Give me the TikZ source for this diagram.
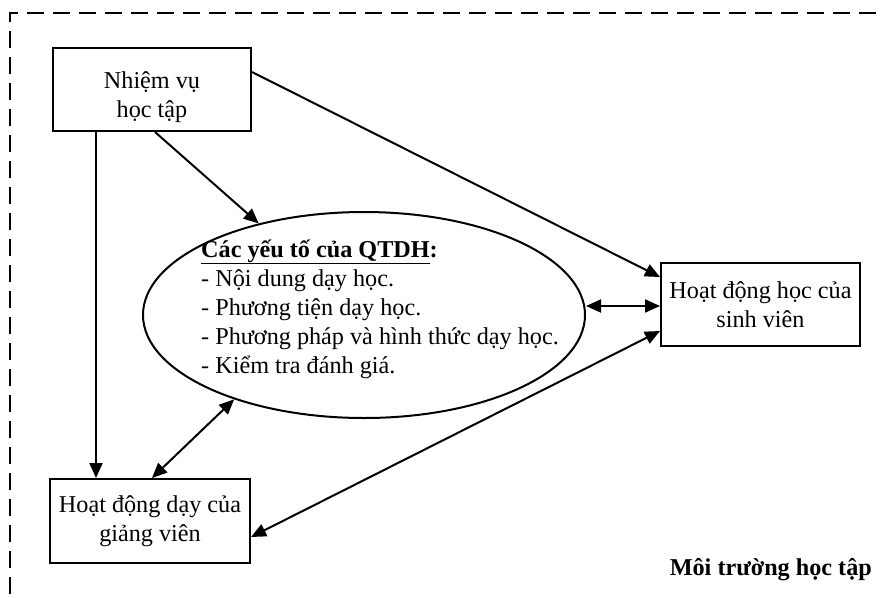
\documentclass[tikz,border=0pt]{standalone}
\usepackage{fontspec}
\setmainfont{Liberation Serif}
\usetikzlibrary{arrows.meta,shapes.geometric}
\begin{document}
\begin{tikzpicture}[x=1pt,y=-1pt,
  box/.style={draw,line width=2pt,inner sep=0pt,font=\fontsize{24.2}{29}\selectfont,align=center},
  arr/.style={line width=2pt,-{Triangle[length=15pt,width=13pt]}},
  darr/.style={line width=2pt,{Triangle[length=15pt,width=13pt]}-{Triangle[length=15pt,width=13pt]}}]
\useasboundingbox (0,0) rectangle (880,597);
\begin{scope}
\clip (0,0) rectangle (880,597);
\draw[line width=2pt,dash pattern=on 17pt off 9pt] (10,620) -- (10,13) -- (900,13);
\end{scope}
\node[box,minimum width=198pt,minimum height=83pt] (nv) at (152,89.5) {\rule{0pt}{33pt}Nhiệm vụ\\học tập};
\node[box,minimum width=200pt,minimum height=84pt] (gv) at (150,521) {Hoạt động dạy của\\giảng viên};
\node[box,minimum width=199pt,minimum height=83pt] (sv) at (760.5,304.5) {Hoạt động học của\\sinh viên};
\node[draw,ellipse,line width=2pt,minimum width=442pt,minimum height=206pt,inner sep=0pt] (el) at (364,315) {};
\node[anchor=base west,align=left,inner sep=0pt,font=\fontsize{24.2}{29}\selectfont] (tx) at (201,373)
  {\textbf{\underline{Các yếu tố của QTDH}:}\\
   - Nội dung dạy học.\\
   - Phương tiện dạy học.\\
   - Phương pháp và hình thức dạy học.\\
   - Kiểm tra đánh giá.};
\node[anchor=base east,inner sep=0pt,font=\fontsize{24.2}{29}\selectfont\bfseries] (mt) at (872,575) {Môi trường học tập};
\draw[arr] ([xshift=44pt]nv.south west) coordinate (a) -- (a |- gv.north);
\draw[arr] ([xshift=3pt]nv.south) -- (el.139);
\draw[arr] ([yshift=17.5pt]nv.east) -- ([yshift=27.5pt]sv.west);
\draw[darr] ([yshift=9pt]el.east) -- ([yshift=-1.5pt]sv.west);
\draw[darr] (el.213) -- ([xshift=2pt]gv.north);
\draw[darr] ([yshift=-16pt]gv.east) -- ([yshift=-26.5pt]sv.west);
\end{tikzpicture}
\end{document}
